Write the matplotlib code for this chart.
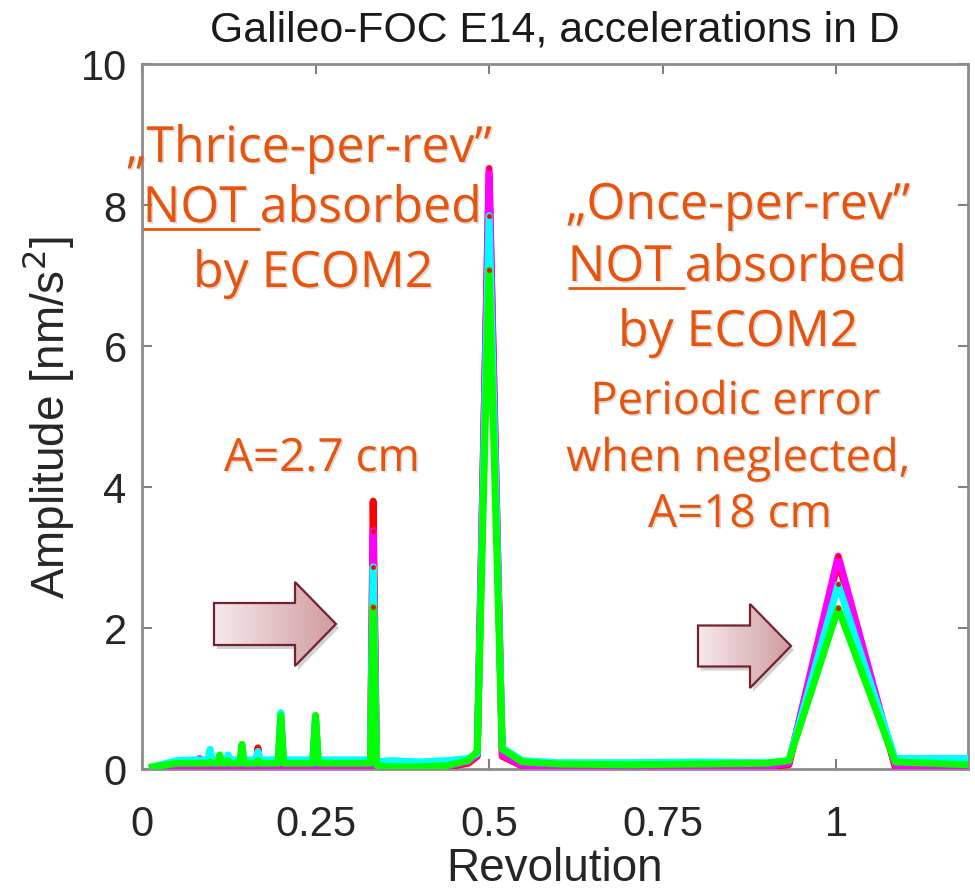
import matplotlib
matplotlib.use("Agg")
import matplotlib.pyplot as plt
import matplotlib.patheffects as pe
from matplotlib.patches import Polygon
import numpy as np

# revolution grid (shared by all series)
rev = [0.015, 0.03, 0.05, 0.07, 0.08, 0.083, 0.086, 0.095, 0.098, 0.101,
       0.109, 0.112, 0.115, 0.121, 0.124, 0.127, 0.141, 0.144, 0.147, 0.164,
       0.167, 0.170, 0.196, 0.200, 0.204, 0.246, 0.250, 0.254, 0.329, 0.333,
       0.338, 0.36, 0.40, 0.44, 0.47, 0.483, 0.500, 0.519, 0.548, 0.60,
       0.70, 0.80, 0.90, 0.932, 1.003, 1.085, 1.19]

amp_red = [0.02, 0.04, 0.05, 0.05, 0.05, 0.06, 0.05, 0.05, 0.08, 0.05,
           0.05, 0.10, 0.05, 0.05, 0.08, 0.05, 0.05, 0.25, 0.05, 0.05,
           0.30, 0.05, 0.05, 0.70, 0.05, 0.05, 0.70, 0.04, 0.04, 3.80,
           0.03, 0.02, 0.02, 0.03, 0.08, 0.18, 8.45, 0.18, 0.04, 0.03,
           0.03, 0.03, 0.03, 0.06, 2.95, 0.03, 0.02]
amp_magenta = [0.02, 0.04, 0.05, 0.05, 0.05, 0.15, 0.05, 0.05, 0.08, 0.05,
               0.05, 0.10, 0.05, 0.05, 0.08, 0.05, 0.05, 0.25, 0.05, 0.05,
               0.20, 0.05, 0.03, 0.70, 0.02, 0.02, 0.70, 0.02, 0.02, 3.38,
               0.02, 0.02, 0.02, 0.04, 0.10, 0.20, 8.52, 0.20, 0.05, 0.03,
               0.03, 0.03, 0.03, 0.08, 3.02, 0.05, 0.05]
amp_cyan = [0.03, 0.07, 0.12, 0.13, 0.13, 0.13, 0.13, 0.13, 0.28, 0.13,
            0.13, 0.15, 0.13, 0.13, 0.20, 0.13, 0.13, 0.28, 0.13, 0.13,
            0.25, 0.13, 0.13, 0.80, 0.13, 0.13, 0.75, 0.13, 0.13, 2.87,
            0.10, 0.12, 0.10, 0.12, 0.15, 0.22, 7.85, 0.30, 0.12, 0.09,
            0.09, 0.10, 0.09, 0.12, 2.62, 0.15, 0.15]
amp_green = [0.03, 0.05, 0.08, 0.08, 0.08, 0.08, 0.08, 0.08, 0.10, 0.08,
             0.08, 0.20, 0.08, 0.08, 0.12, 0.08, 0.08, 0.35, 0.08, 0.08,
             0.12, 0.08, 0.08, 0.76, 0.08, 0.08, 0.76, 0.08, 0.08, 2.30,
             0.05, 0.03, 0.03, 0.05, 0.12, 0.25, 7.08, 0.28, 0.10, 0.07,
             0.06, 0.07, 0.08, 0.12, 2.28, 0.10, 0.06]

series = [(amp_red, "#ff0000"), (amp_magenta, "#ff00ff"),
          (amp_cyan, "#00ffff"), (amp_green, "#00ff00")]
peak_revs = [0.333, 0.500, 1.003]

xticks = [0, 0.25, 0.5, 0.75, 1]
xticklabels = ["0", "0.25", "0.5", "0.75", "1"]
yticks = [0, 2, 4, 6, 8, 10]

plt.rcParams["font.family"] = ["Liberation Sans", "DejaVu Sans"]

fig = plt.figure(figsize=(9.75, 8.95), dpi=100)
ax = fig.add_axes([142 / 975, 1 - 770 / 895, 826 / 975, 705 / 895])

for amp, col in series:
    ax.plot(rev, amp, color=col, lw=5, solid_joinstyle="round", zorder=3)

# small red dots on the peak vertices
for amp, col in series[1:]:
    pk = [amp[rev.index(r)] for r in peak_revs]
    ax.plot(peak_revs, pk, "o", color="#ff0000", ms=3.5, mec="none", zorder=4)

ax.set_xlim(0, 1.19)
ax.set_ylim(0, 10)
ax.set_xticks(xticks)
ax.set_xticklabels(xticklabels)
ax.set_yticks(yticks)
ax.tick_params(direction="in", length=7, width=1.5, color="#808080",
               labelsize=30, labelcolor="#262626", top=True, right=True)
ax.tick_params(axis="x", pad=25)
ax.tick_params(axis="y", pad=11)
for s in ax.spines.values():
    s.set_color("#8c8c8c")
    s.set_linewidth(2)

ax.set_title("Galileo-FOC E14, accelerations in D", fontsize=30.8,
             color="#1a1a1a", pad=17)
ax.set_xlabel("Revolution", fontsize=33, color="#262626", labelpad=2)
ax.set_ylabel("Amplitude [nm/s$^2$]", fontsize=33, color="#262626", labelpad=3)

# overlay in pixel coordinates for arrows and callout text
ov = fig.add_axes([0, 0, 1, 1], zorder=5)
ov.set_xlim(0, 975)
ov.set_ylim(895, 0)
ov.axis("off")

def block_arrow(x0, xh, xt, ym, hs, hh):
    pts = [(x0, ym - hs), (xh, ym - hs), (xh, ym - hh), (xt, ym),
           (xh, ym + hh), (xh, ym + hs), (x0, ym + hs)]
    shadow = Polygon([(px + 3, py + 4) for px, py in pts], closed=True,
                     fc="#000000", ec="none", alpha=0.18)
    ov.add_patch(shadow)
    poly = Polygon(pts, closed=True, fc="none", ec="#74222e", lw=1.6, zorder=3)
    grad = np.linspace(0, 1, 256).reshape(1, -1)
    cmap = matplotlib.colors.LinearSegmentedColormap.from_list(
        "pk", ["#f6e9eb", "#cf9ca2"])
    im = ov.imshow(grad, cmap=cmap, extent=(x0, xt, ym + hh, ym - hh),
                   aspect="auto", zorder=2)
    ov.add_patch(poly)
    im.set_clip_path(poly)

block_arrow(214, 295, 336, 625, 21, 42)
block_arrow(698, 750, 791, 647, 20.5, 42)

orange = "#e6550d"
tfont = ["Open Sans", "DejaVu Sans"]
fx = [pe.SimplePatchShadow(offset=(1.2, -1.2), shadow_rgbFace="#999999", alpha=0.35),
      pe.Normal()]

callouts = [
    ("\u201eThrice-per-rev\u201d", 309, 163, 36),
    ("NOT absorbed", 312, 223, 36),
    ("by ECOM2", 313, 288, 36),
    ("A=2.7 cm", 322, 472, 33),
    ("\u201eOnce-per-rev\u201d", 738, 220, 36),
    ("NOT absorbed", 737, 282, 36),
    ("by ECOM2", 738, 347, 36),
    ("Periodic error", 735, 415, 32.5),
    ("when neglected,", 738, 472, 32.5),
    ("A=18 cm", 740, 528, 33),
]
texts = []
for s, x, y, fs in callouts:
    t = ov.text(x, y, s, ha="center", va="baseline", fontsize=fs,
                color=orange, family=tfont, path_effects=fx)
    texts.append(t)

# underline "NOT " in the two callouts
fig.canvas.draw()
r = fig.canvas.get_renderer()
inv = ov.transData.inverted()
for t in texts:
    if not t.get_text().startswith("NOT"):
        continue
    bb = t.get_window_extent(r)
    probe = ov.text(0, 0, "NOT", fontsize=t.get_fontsize(), family=tfont)
    w_not = probe.get_window_extent(r).width
    probe.set_text("absorbed")
    w_abs = probe.get_window_extent(r).width
    probe.remove()
    w_sp = bb.width - w_not - w_abs
    (xa, ya) = inv.transform((bb.x0, bb.y0))
    (xb, _) = inv.transform((bb.x0 + w_not + w_sp, bb.y0))
    yb = t.get_position()[1] + 7
    ov.plot([xa, xb], [yb, yb], color=orange, lw=2, solid_capstyle="butt")

fig.savefig("out.png", dpi=100)
